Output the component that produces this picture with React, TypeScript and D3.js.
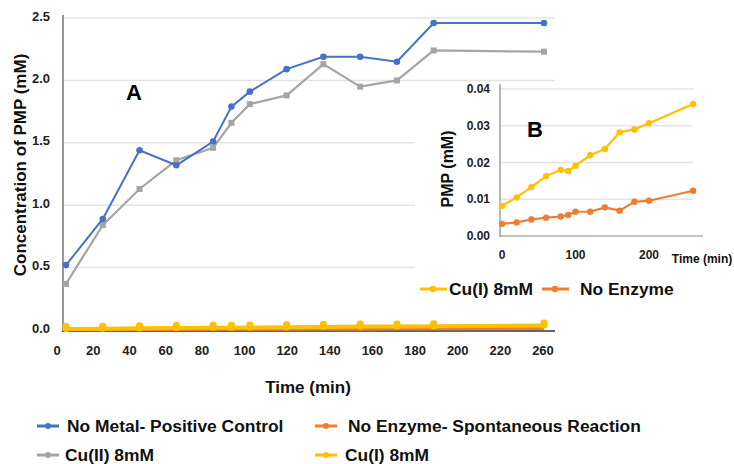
import React from "react";
import * as d3 from "d3";

// sampling times (min), shared by both panels
const times = [0, 20, 40, 60, 80, 90, 100, 120, 140, 160, 180, 200, 260];

// panel A series (mM)
const noMetal = [0.52, 0.89, 1.44, 1.32, 1.51, 1.79, 1.91, 2.09, 2.19, 2.19, 2.15, 2.46, 2.46];
const cuII = [0.37, 0.84, 1.13, 1.36, 1.46, 1.66, 1.81, 1.88, 2.13, 1.95, 2.0, 2.24, 2.23];

// panel B series (mM), also drawn near zero in panel A
const cuI = [0.0082, 0.0105, 0.0133, 0.0163, 0.018, 0.0177, 0.0191, 0.022, 0.0237, 0.0282, 0.029, 0.0307, 0.0359];
const noEnzyme = [0.0033, 0.0037, 0.0045, 0.005, 0.0053, 0.0057, 0.0066, 0.0066, 0.0078, 0.0069, 0.0093, 0.0096, 0.0123];

const xTickLabels = ["0", "20", "40", "60", "80", "100", "120", "140", "160", "180", "200", "220", "260"];
const yTicks = [0, 0.5, 1, 1.5, 2, 2.5];
const insetXTicks = [0, 100, 200];
const insetYTicks = [0, 0.01, 0.02, 0.03, 0.04];

const BLUE = "#4472c4";
const GRAY = "#a5a5a5";
const ORANGE = "#ed7d31";
const YELLOW = "#ffc000";
const FONT = "'Liberation Sans', Arial, sans-serif";

const width = 734;
const height = 464;

const App: React.FC = () => {
  // panel A
  const x = d3.scaleLinear().domain([0, 260]).range([66, 544]);
  const y = d3.scaleLinear().domain([0, 2.5]).range([330, 18]);
  // the pasted tick labels are not evenly spread
  const xLab = d3.scaleLinear().domain([0, 4, 12]).range([57, 202, 543]);

  // panel B (inset)
  const xi = d3.scaleLinear().domain([0, 200]).range([502, 649]);
  const yi = d3.scaleLinear().domain([0, 0.04]).range([236, 89]);

  const lineA = d3
    .line<number>()
    .x((_, i) => x(times[i]))
    .y((d) => y(d));
  const lineB = d3
    .line<number>()
    .x((_, i) => xi(times[i]))
    .y((d) => yi(d));

  const fmtA = d3.format(".1f");
  const fmtB = d3.format(".2f");

  const legendMain = [
    { label: "No Metal- Positive Control", color: BLUE, lx: 37, tx: 67, ty: 426 },
    { label: "Cu(II) 8mM", color: GRAY, lx: 37, tx: 65, ty: 455 },
    { label: "No Enzyme- Spontaneous Reaction", color: ORANGE, lx: 315, tx: 348, ty: 426 },
    { label: "Cu(I) 8mM", color: YELLOW, lx: 315, tx: 345, ty: 455 },
  ];
  const legendInset = [
    { label: "Cu(I) 8mM", color: YELLOW, lx: 420, tx: 449, ty: 289 },
    { label: "No Enzyme", color: ORANGE, lx: 542, tx: 580, ty: 289 },
  ];

  return (
    <svg
      width={width}
      height={height}
      style={{ position: "absolute", left: 0, top: 0, background: "#fff" }}
      fontFamily={FONT}
      fontWeight="bold"
    >
      {/* panel A grid */}
      {yTicks.slice(1).map((t) => (
        <line key={t} x1={63} x2={555} y1={y(t)} y2={y(t)} stroke="#e4e4e4" strokeWidth={1.5} />
      ))}
      <line x1={63} x2={63} y1={15} y2={332} stroke="#777" strokeWidth={1.5} />
      <line x1={62} x2={555} y1={331} y2={331} stroke="#333" strokeWidth={1.5} />

      {/* near-zero series in panel A */}
      <path d={lineA(noEnzyme) ?? ""} fill="none" stroke={ORANGE} strokeWidth={3} />
      <path d={lineA(cuI) ?? ""} fill="none" stroke={YELLOW} strokeWidth={4} />
      {cuI.map((d, i) => (
        <rect key={i} x={x(times[i]) - 3.5} y={y(d) - 6} width={7} height={9} rx={3} fill={YELLOW} />
      ))}

      {/* Cu(II) */}
      <path d={lineA(cuII) ?? ""} fill="none" stroke={GRAY} strokeWidth={2.2} />
      {cuII.map((d, i) => (
        <rect key={i} x={x(times[i]) - 3} y={y(d) - 3} width={6} height={6} fill={GRAY} />
      ))}
      {/* No metal */}
      <path d={lineA(noMetal) ?? ""} fill="none" stroke={BLUE} strokeWidth={2} />
      {noMetal.map((d, i) => (
        <circle key={i} cx={x(times[i])} cy={y(d)} r={3.3} fill={BLUE} />
      ))}

      {/* panel A axes text */}
      {yTicks.map((t) => (
        <text key={t} x={50} y={y(t) - 2} dy="0.35em" textAnchor="end" fontSize={13} fill="#222">
          {fmtA(t)}
        </text>
      ))}
      {xTickLabels.map((l, i) => (
        <text key={l} x={xLab(i)} y={355} textAnchor="middle" fontSize={13} fill="#222">
          {l}
        </text>
      ))}
      <text x={308} y={393} textAnchor="middle" fontSize={17} fill="#111">
        Time (min)
      </text>
      <text
        transform={`translate(26,165) rotate(-90)`}
        textAnchor="middle"
        fontSize={17}
        fill="#111"
      >
        Concentration of PMP (mM)
      </text>
      <text x={134} y={100} textAnchor="middle" fontSize={22} fill="#000">
        A
      </text>

      {/* panel B background */}
      <rect x={458} y={84} width={276} height={226} fill="#fff" />
      <rect x={415} y={120} width={50} height={190} fill="#fff" />

      {insetYTicks.slice(1).map((t) => (
        <line key={t} x1={500} x2={693} y1={yi(t)} y2={yi(t)} stroke="#e4e4e4" strokeWidth={1.5} />
      ))}
      <line x1={500} x2={500} y1={84} y2={237} stroke="#888" strokeWidth={1.2} />
      <line x1={500} x2={703} y1={236} y2={236} stroke="#888" strokeWidth={1.2} />

      <path d={lineB(noEnzyme) ?? ""} fill="none" stroke={ORANGE} strokeWidth={2.2} />
      {noEnzyme.map((d, i) => (
        <circle key={i} cx={xi(times[i])} cy={yi(d)} r={3.2} fill={ORANGE} />
      ))}
      <path d={lineB(cuI) ?? ""} fill="none" stroke={YELLOW} strokeWidth={2.2} />
      {cuI.map((d, i) => (
        <circle key={i} cx={xi(times[i])} cy={yi(d)} r={3.2} fill={YELLOW} />
      ))}

      {insetYTicks.map((t) => (
        <text key={t} x={490} y={yi(t)} dy="0.35em" textAnchor="end" fontSize={12} fill="#222">
          {fmtB(t)}
        </text>
      ))}
      {insetXTicks.map((t) => (
        <text key={t} x={xi(t)} y={259} textAnchor="middle" fontSize={12} fill="#222">
          {t}
        </text>
      ))}
      <text x={702} y={263} textAnchor="middle" fontSize={12} fill="#111">
        Time (min)
      </text>
      <text
        transform={`translate(453,169) rotate(-90)`}
        textAnchor="middle"
        fontSize={16}
        fill="#111"
      >
        PMP (mM)
      </text>
      <text x={535} y={137} textAnchor="middle" fontSize={22} fill="#000">
        B
      </text>

      {/* legends */}
      {legendInset.map((e) => (
        <g key={e.label}>
          <line x1={e.lx} x2={e.lx + 27} y1={e.ty} y2={e.ty} stroke={e.color} strokeWidth={3} />
          <circle cx={e.lx + 13} cy={e.ty} r={3.2} fill={e.color} />
          <text x={e.tx} y={e.ty} dy="0.35em" fontSize={17.4} fill="#111">
            {e.label}
          </text>
        </g>
      ))}
      {legendMain.map((e) => (
        <g key={e.label}>
          <line x1={e.lx} x2={e.lx + 22} y1={e.ty} y2={e.ty} stroke={e.color} strokeWidth={3} />
          <circle cx={e.lx + 11} cy={e.ty} r={3} fill={e.color} />
          <text x={e.tx} y={e.ty} dy="0.35em" fontSize={17.4} fill="#111">
            {e.label}
          </text>
        </g>
      ))}
    </svg>
  );
};

export default App;
